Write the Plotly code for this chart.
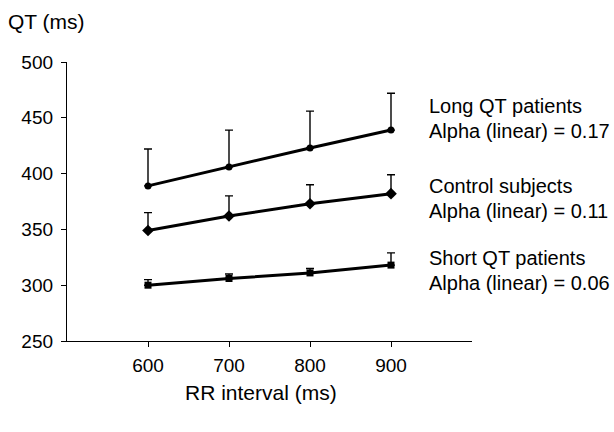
import plotly.graph_objects as go

rr = [600, 700, 800, 900]
long_qt = [389, 406, 423, 439]
long_err = [33, 33, 33, 33]
control = [349, 362, 373, 382]
control_err = [16, 18, 17, 17]
short_qt = [300, 306, 311, 318]
short_err = [5, 4, 4, 11]

labels = [
    ("Long QT patients", "Alpha (linear) = 0.17"),
    ("Control subjects", "Alpha (linear) = 0.11"),
    ("Short QT patients", "Alpha (linear) = 0.06"),
]

FONT = "Arial, Liberation Sans, sans-serif"

fig = go.Figure()
series = [
    (long_qt, long_err, "circle", 7),
    (control, control_err, "diamond", 9),
    (short_qt, short_err, "square", 7),
]
for vals, err, sym, sz in series:
    fig.add_trace(go.Scatter(
        x=rr, y=vals, mode="lines+markers",
        line=dict(color="black", width=3),
        marker=dict(symbol=sym, size=sz, color="black"),
        error_y=dict(type="data", symmetric=False, array=err,
                     arrayminus=[0] * len(err), color="black",
                     thickness=1.4, width=4),
        showlegend=False, cliponaxis=False,
    ))

label_y = [(106, 131), (186, 211), (258, 283)]
for (l1, l2), (y1, y2) in zip(labels, label_y):
    for txt, yp in ((l1, y1), (l2, y2)):
        fig.add_annotation(text=txt, xref="paper", yref="paper",
                           x=(427 - 67) / 405, y=(341 - yp) / 279,
                           xanchor="left", yanchor="middle", showarrow=False,
                           font=dict(family=FONT, size=20, color="black"))

fig.add_annotation(text="QT (ms)", xref="paper", yref="paper",
                   x=(6 - 67) / 405, y=(341 - 21) / 279, xanchor="left",
                   yanchor="middle", showarrow=False,
                   font=dict(family=FONT, size=21, color="black"))
fig.add_annotation(text="RR interval (ms)", xref="paper", yref="paper",
                   x=(261 - 67) / 405, y=(341 - 392) / 279, xanchor="center",
                   yanchor="middle", showarrow=False,
                   font=dict(family=FONT, size=21, color="black"))

fig.update_layout(
    width=614, height=432,
    margin=dict(l=67, r=142, t=62, b=91),
    paper_bgcolor="white", plot_bgcolor="white",
    font=dict(family=FONT, size=19, color="black"),
    xaxis=dict(range=[500, 1000], tickvals=[600, 700, 800, 900],
               showline=True, linecolor="black", linewidth=1.3,
               ticks="outside", ticklen=5, tickcolor="black", tickwidth=1.3,
               ticklabelstandoff=2,
               showgrid=False, zeroline=False),
    yaxis=dict(range=[250, 500], tickvals=[250, 300, 350, 400, 450, 500],
               showline=True, linecolor="black", linewidth=1.3,
               ticks="outside", ticklen=5, tickcolor="black", tickwidth=1.3,
               ticklabelstandoff=4,
               showgrid=False, zeroline=False),
)

fig.write_html("out.html")
